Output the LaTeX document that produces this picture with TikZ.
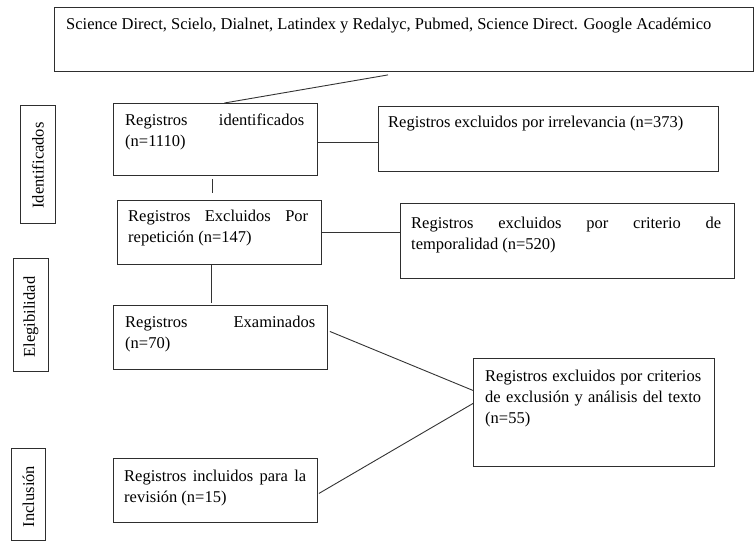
\documentclass[tikz,border=0pt]{standalone}
\usepackage{fontspec}
\setmainfont{Liberation Serif}
\usetikzlibrary{calc}
\newcommand{\jl}[2]{\makebox[#1pt][s]{#2}}
\begin{document}
\begin{tikzpicture}[x=1pt,y=-1pt,
  box/.style={draw=black!82, line width=0.9pt, rectangle, inner sep=0pt, anchor=north west},
  txt/.style={anchor=base west, inner sep=0pt, font=\fontsize{16.5}{21}\selectfont},
  lbl/.style={rotate=90, inner sep=0pt, font=\fontsize{16.5}{21}\selectfont},
  conn/.style={draw=black!80, line width=0.9pt}]
\useasboundingbox (0,0) rectangle (755,542);

% boxes
\node[box, minimum width=699pt, minimum height=64pt] (top) at (54,7) {};
\node[box, minimum width=204pt, minimum height=72pt] (ident) at (113,103) {};
\node[box, minimum width=340pt, minimum height=65pt] (irrel) at (378,106) {};
\node[box, minimum width=204pt, minimum height=64pt] (rep) at (117,200) {};
\node[box, minimum width=334pt, minimum height=75pt] (crit) at (400,203) {};
\node[box, minimum width=214pt, minimum height=64pt] (exam) at (113,305) {};
\node[box, minimum width=241pt, minimum height=108pt] (ana) at (473,358) {};
\node[box, minimum width=204pt, minimum height=64pt] (incl) at (113,458) {};
\node[box, minimum width=35pt, minimum height=118pt] (L1) at (20,105) {};
\node[box, minimum width=35pt, minimum height=113pt] (L2) at (13,258) {};
\node[box, minimum width=34pt, minimum height=92pt] (L3) at (11,448) {};

% texts
\node[txt] (ttop) at ($(top.north west)+(12,22.5)$) {Science Direct, Scielo, Dialnet, Latindex y Redalyc, Pubmed, Science Direct. Google Académico};
\node[txt] (tident) at ($(ident.north west)+(12,22.5)$) {\parbox[t]{190pt}{\jl{179}{Registros identificados}\\(n=1110)}};
\node[txt] (tirrel) at ($(irrel.north west)+(10,21.5)$) {Registros excluidos por irrelevancia (n=373)};
\node[txt] (trep) at ($(rep.north west)+(11,21.5)$) {\parbox[t]{190pt}{\jl{180}{Registros Excluidos Por}\\repetición (n=147)}};
\node[txt] (tcrit) at ($(crit.north west)+(11,25.5)$) {\parbox[t]{320pt}{\jl{310}{Registros excluidos por criterio de}\\temporalidad (n=520)}};
\node[txt] (texam) at ($(exam.north west)+(12,22.5)$) {\parbox[t]{200pt}{\jl{190}{Registros Examinados}\\(n=70)}};
\node[txt] (tana) at ($(ana.north west)+(12,23.5)$) {\parbox[t]{225pt}{\jl{216}{Registros excluidos por criterios}\\\jl{216}{de exclusión y análisis del texto}\\(n=55)}};
\node[txt] (tincl) at ($(incl.north west)+(11,23.5)$) {\parbox[t]{190pt}{\jl{182}{Registros incluidos para la}\\revisión (n=15)}};

\node[lbl] (tL1) at ($(L1.center)+(0,1)$) {Identificados};
\node[lbl] (tL2) at ($(L2.center)+(0,2)$) {Elegibilidad};
\node[lbl] (tL3) at ($(L3.center)+(0,2)$) {Inclusión};

% connectors
\draw[conn] ($(top.south west)+(334,3)$) -- ($(ident.north)+(9,0)$);
\draw[conn] ($(ident.east)+(0,3)$) -- ($(irrel.west)+(0,3.5)$);
\draw[conn] ($(ident.south)+(-3,3)$) -- ($(rep.north)+(-7,-7)$);
\draw[conn] (rep.east) -- (rep.east -| crit.west);
\draw[conn] ($(rep.south)+(-8,0)$) -- ($(exam.north)+(-9,-2)$);
\draw[conn] ($(exam.east)+(2,-6)$) -- ($(ana.west)+(0,-22)$);
\draw[conn] ($(incl.east)+(1,3)$) -- ($(ana.west)+(0,-9)$);
\end{tikzpicture}
\end{document}
